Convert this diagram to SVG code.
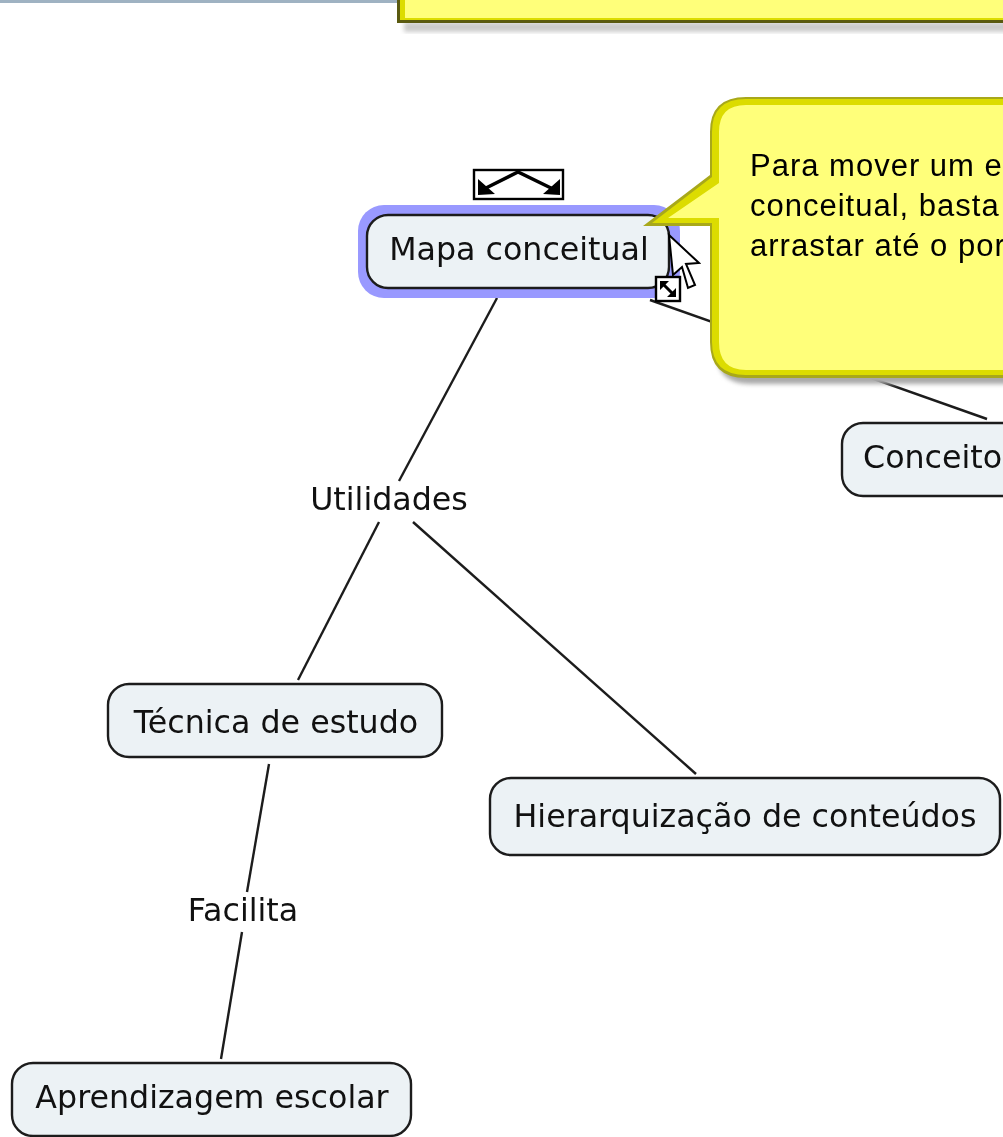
<svg xmlns="http://www.w3.org/2000/svg" width="1003" height="1137" viewBox="0 0 1003 1137">
<style>
.n{fill:#ecf2f5;stroke:#1c1c1c;stroke-width:2.4}
.t{font-family:"DejaVu Sans",Verdana,sans-serif;font-size:31.7px;fill:#111;text-anchor:middle}
.c{stroke:#1c1c1c;stroke-width:2.4;fill:none}
.y0{fill:#a8a81a}
.y1{fill:#dcdc00}
.y2{fill:#ffff7a}
.ct{font-family:"Liberation Sans",Arial,sans-serif;font-size:31px;letter-spacing:1px;fill:#000}
.i{fill:#fff;stroke:#000;stroke-width:2.4}
</style>
<defs>
<filter id="soft" x="-5%" y="-5%" width="110%" height="110%" color-interpolation-filters="sRGB"><feGaussianBlur stdDeviation="0.6"/></filter>
<filter id="sh" x="-10%" y="-10%" width="120%" height="130%" color-interpolation-filters="sRGB"><feGaussianBlur stdDeviation="2"/></filter>
</defs>
<rect width="1003" height="1137" fill="#fff"/>
<g id="top-bar"><rect x="0" y="0" width="400" height="3" fill="#9fb2c2"/></g>
<g id="connectors" filter="url(#soft)">
<line class="c" x1="497" y1="298" x2="399" y2="481"/>
<line class="c" x1="379" y1="522" x2="298" y2="680"/>
<line class="c" x1="413" y1="522" x2="696" y2="774"/>
<line class="c" x1="269" y1="764" x2="247" y2="892"/>
<line class="c" x1="242" y1="932" x2="221" y2="1059"/>
<line class="c" x1="650" y1="300" x2="987" y2="419"/>
</g>
<g id="node-mapa" filter="url(#soft)">
<rect x="358" y="205" width="322" height="93" rx="26" fill="#9999ff"/>
<rect class="n" x="367" y="215" width="302" height="73" rx="21"/>
<text class="t" x="519" y="260">Mapa conceitual</text>
</g>
<g id="node-conceitos" filter="url(#soft)">
<rect class="n" x="842" y="423" width="220" height="73" rx="21"/>
<text class="t" x="863" y="468" style="text-anchor:start">Conceitos</text>
</g>
<g id="label-utilidades" filter="url(#soft)"><text class="t" x="389" y="510">Utilidades</text></g>
<g id="node-tecnica" filter="url(#soft)">
<rect class="n" x="108" y="684" width="334" height="73" rx="21"/>
<text class="t" x="276" y="733">Técnica de estudo</text>
</g>
<g id="node-hierarquizacao" filter="url(#soft)">
<rect class="n" x="490" y="778" width="510" height="77" rx="21"/>
<text class="t" x="745" y="827">Hierarquização de conteúdos</text>
</g>
<g id="label-facilita" filter="url(#soft)"><text class="t" x="243" y="921">Facilita</text></g>
<g id="node-aprendizagem" filter="url(#soft)">
<rect class="n" x="12" y="1063" width="399" height="73" rx="21"/>
<text class="t" x="212" y="1108">Aprendizagem escolar</text>
</g>
<g id="handle-arrows" filter="url(#soft)">
<rect class="i" x="474" y="170" width="89" height="29"/>
<path d="M484 189L518 172L553 189" fill="none" stroke="#000" stroke-width="3.5"/>
<path d="M478 179L478 195L495 194Z M560 179L560 195L543 194Z" fill="#000"/>
</g>
<g id="cursor" filter="url(#soft)">
<path d="M669 235L699 263L686 264L695 285L688 288L682 267L673 275Z" fill="#fff" stroke="#000" stroke-width="2"/>
</g>
<g id="handle-resize" filter="url(#soft)">
<rect class="i" x="656" y="277" width="24" height="24"/>
<path d="M663 284L673 294" stroke="#000" stroke-width="3"/>
<path d="M660 281H669L660 290Z M676 297H667L676 288Z" fill="#000"/>
</g>
<g id="callout-top" filter="url(#soft)">
<rect x="404" y="22" width="620" height="10" fill="#ccc" filter="url(#sh)"/>
<rect x="397" y="-10" width="620" height="33" fill="#5a5a10"/>
<rect class="y1" x="400" y="-10" width="620" height="30"/>
<rect class="y2" x="405" y="-10" width="620" height="28"/>
</g>
<g id="callout" filter="url(#soft)">
<path d="M750 110H1040V384H750Q716 384 716 350V130Q716 110 750 110Z" fill="#aaa" filter="url(#sh)"/>
<path class="y0" d="M746 97H1040V378H746Q710 378 710 342V226H643L710 175V132Q710 97 746 97Z"/>
<path class="y1" d="M746 99H1040V375H746Q712 375 712 342V223H652L712 177V132Q712 99 746 99Z"/>
<path class="y2" d="M746 105H1040V370H746Q719 370 719 342V218H668L719 183V132Q719 105 746 105Z"/>
<text class="ct" x="750" y="176">Para mover um e</text>
<text class="ct" x="750" y="216">conceitual, basta</text>
<text class="ct" x="750" y="256">arrastar até o por</text>
</g>
</svg>
